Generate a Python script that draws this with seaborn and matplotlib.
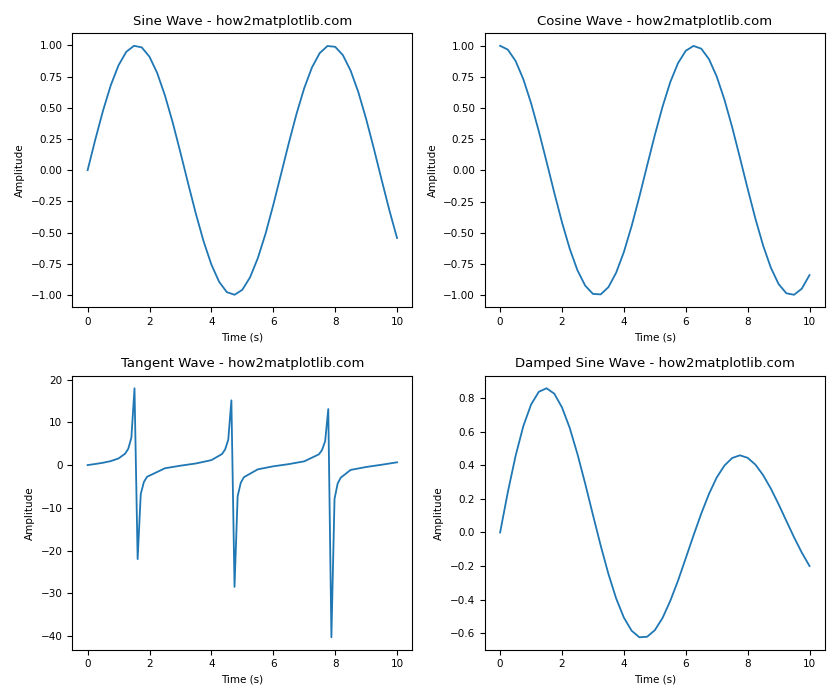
import numpy as np
import pandas as pd
import seaborn as sns
import matplotlib.pyplot as plt

# values, step 0.25 on 0..10
t = [0, .25, .5, .75, 1, 1.25, 1.5, 1.75, 2, 2.25, 2.5, 2.75, 3, 3.25, 3.5, 3.75, 4, 4.25, 4.5, 4.75,
     5, 5.25, 5.5, 5.75, 6, 6.25, 6.5, 6.75, 7, 7.25, 7.5, 7.75, 8, 8.25, 8.5, 8.75, 9, 9.25, 9.5, 9.75, 10]
sine = [0, .247, .479, .682, .841, .949, .997, .984, .909, .778, .598, .382, .141, -.108, -.351, -.572,
        -.757, -.895, -.978, -.999, -.959, -.859, -.706, -.510, -.279, -.033, .215, .450, .657, .823,
        .938, .995, .989, .922, .798, .625, .412, .174, -.075, -.319, -.544]
cosine = [1, .969, .878, .732, .540, .315, .071, -.178, -.416, -.628, -.801, -.924, -.990, -.994, -.936,
          -.820, -.654, -.446, -.211, .038, .284, .512, .709, .861, .960, .999, .977, .893, .754, .568,
          .347, .103, -.146, -.386, -.602, -.780, -.911, -.985, -.997, -.948, -.839]
damped = [0, .241, .456, .633, .761, .837, .858, .826, .744, .622, .466, .290, .104, -.078, -.247, -.393,
          -.507, -.585, -.624, -.621, -.582, -.509, -.407, -.287, -.153, -.018, .112, .229, .327, .398,
          .443, .459, .444, .404, .341, .261, .168, .069, -.029, -.120, -.200]

# tangent sampled where the reference polyline has its corners
t_tan = [0, .25, .5, .75, 1, 1.2121, 1.3131, 1.4141, 1.5152, 1.6162, 1.7172, 1.8182, 1.9192, 2.5, 3, 3.5,
         4, 4.3434, 4.4444, 4.5455, 4.6465, 4.7475, 4.8485, 4.9495, 5.0505, 5.5, 6, 6.5, 7, 7.4747,
         7.5758, 7.6768, 7.7778, 7.8788, 7.9798, 8.0808, 8.1818, 8.5, 9, 9.5, 10]
tangent = [0, .255, .546, .932, 1.557, 2.67, 3.81, 6.41, 17.97, -22.0, -6.78, -3.96, -2.75, -.747, -.143,
           .375, 1.158, 2.58, 3.66, 5.93, 15.15, -28.5, -7.30, -4.14, -2.84, -.996, -.291, .220, .871,
           2.51, 3.52, 5.58, 13.1, -40.3, -7.91, -4.33, -2.94, -1.137, -.452, .075, .648]

panels = [
    (t, sine, "Sine Wave - how2matplotlib.com"),
    (t, cosine, "Cosine Wave - how2matplotlib.com"),
    (t_tan, tangent, "Tangent Wave - how2matplotlib.com"),
    (t, damped, "Damped Sine Wave - how2matplotlib.com"),
]

fig, axes = plt.subplots(2, 2, figsize=(8.4, 7), dpi=100)
for ax, (x, y, titlu) in zip(axes.flat, panels):
    df = pd.DataFrame({"x": x, "y": y})
    sns.lineplot(data=df, x="x", y="y", ax=ax, color="#1f77b4", linewidth=1.3)
    ax.set_title(titlu, fontsize=9.5)
    ax.set_xlabel("Time (s)", fontsize=7.5)
    ax.set_ylabel("Amplitude", fontsize=7.5)
    ax.tick_params(labelsize=7.5)

plt.tight_layout()
plt.savefig("out.png")
